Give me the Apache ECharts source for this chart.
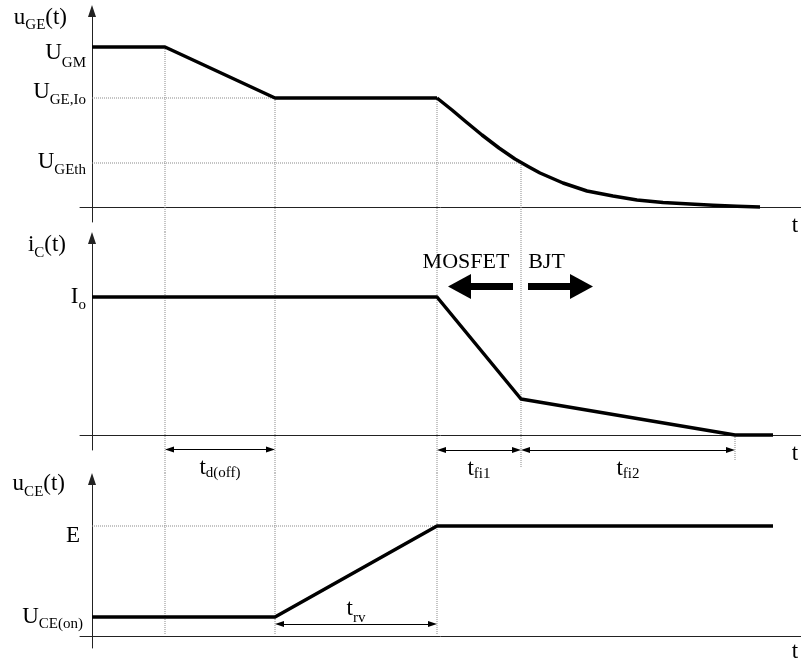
<!DOCTYPE html>
<html><head><meta charset="utf-8">
<script src="https://cdn.jsdelivr.net/npm/echarts@6/dist/echarts.min.js"></script>
<style>html,body{margin:0;padding:0;background:#fff}#c{width:801px;height:659px}</style>
</head><body><div id="c"></div>
<script>
// ---- time instants (arbitrary time units) ----
const tInstants = [0, 7.3, 18.3, 34.5, 42.9, 64.3, 68.1]; // t0, t1..t5, end

// ---- waveforms [t, value] ----
const uGE_linear = [[0, 16.0], [7.3, 16.0], [18.3, 10.9], [34.5, 10.9]];
const uGE_decay = [[34.5, 10.9], [36.0, 9.7], [37.3, 8.6], [39.0, 7.2], [40.7, 5.9], [42.3, 4.8], [43.7, 4.0], [44.8, 3.4],
  [47.1, 2.4], [49.5, 1.6], [52.1, 1.1], [54.5, 0.7], [57.1, 0.45], [59.8, 0.3], [62.1, 0.17], [64.5, 0.08], [66.8, 0.0]];
const iC_wave = [[0, 13.8], [34.5, 13.8], [42.9, 3.6], [64.3, 0], [68.1, 0]];
const uCE_wave = [[0, 1.9], [18.3, 1.9], [34.5, 11.0], [68.1, 11.0]];

// ---- level ticks / labels ----
const uGE_tickValues = [16.0, 10.9, 4.4];
const uGE_tickLabels = ['{a1|U}{b1|GM}', '{a2|U}{b2|GE,Io}', '{a3|U}{b3|GEth}'];
const iC_tickValues = [13.8];
const iC_tickLabels = ['{a4|I}{b4|o}'];
const uCE_tickValues = [11.0, 1.9];
const uCE_tickLabels = ['{a5|E}', '{a6|U}{b6|CE(on)}'];

const axisNames = ['{m|u}{k|GE}{m|(t)}', '{m|i}{k|C}{m|(t)}', '{m|u}{k|CE}{m|(t)}'];
const timeAxisName = 't';

// ---- interval annotations: [start, end, level, label] ----
const iC_intervals = [[7.3, 18.3, -1.45, '{m|t}{n|d(off)}'], [34.5, 42.9, -1.5, '{m|t}{n|fi1}'], [42.9, 64.3, -1.5, '{m|t}{n|fi2}']];
const uCE_intervals = [[18.3, 34.5, 1.2, '{m|t}{d|rv}']];
const regionTexts = ['MOSFET', 'BJT'];
const regionTextPos = [[37.4, 17.25], [45.45, 17.25]];
const regionArrows = [[42.1, 35.6, 14.85], [43.6, 50.1, 14.85]]; // [from, to(tip), level]

// ---- guide (dotted) segments per panel: [[t,v],[t,v]] ----
const uGE_guides = [
  [[7.3, 16.0], [7.3, -2.6]], [[18.3, 10.9], [18.3, -2.6]], [[34.5, 10.9], [34.5, -2.6]], [[42.9, 4.4], [42.9, -2.6]],
  [[0, 10.9], [18.3, 10.9]], [[0, 4.4], [42.9, 4.4]]
];
const iC_guides = [
  [[7.3, 20.3], [7.3, -3.8]], [[18.3, 20.3], [18.3, -3.8]], [[34.5, 20.3], [34.5, -3.8]],
  [[42.9, 20.3], [42.9, -3.2]], [[64.3, 0], [64.3, -2.5]]
];
const uCE_guides = [
  [[7.3, 16.3], [7.3, 0.2]], [[18.3, 16.3], [18.3, 0.2]], [[34.5, 16.3], [34.5, 0.2]],
  [[0, 11.0], [34.5, 11.0]]
];

const serif = '"Liberation Serif", "Times New Roman", serif';
const BLACK = '#000';
const AXIS = '#222';

function tok(size, pad) { return {fontFamily: serif, fontSize: size, lineHeight: size, color: BLACK, padding: pad, verticalAlign: 'middle'}; }
const tickRich = {
  a1: tok(23, [12, 0, 0, 0]), b1: tok(15, [33, 0, 0, 0]),
  a2: tok(23, [0, 0, 12, 0]), b2: tok(15, [4, 0, 0, 0]),
  a3: tok(23, [0, 0, 2, 0]), b3: tok(15, [15, 0, 0, 0]),
  a4: tok(23, [0, 0, 0, 0]), b4: tok(15, [17, 0, 0, 0]),
  a5: tok(23, [19, 6, 0, 0]),
  a6: tok(23, [0, 0, 0, 0]), b6: tok(15, [15, 3, 0, 0])
};
const nameRich = {
  m: tok(23, [0, 0, 0, 0]),
  n: tok(15, [11, 0, 0, 0]),
  k: tok(15, [16, 0, 0, 0]),
  d: tok(15, [19, 0, 0, 0])
};

function lookup(values, labels) {
  return function (v) {
    for (let i = 0; i < values.length; i++) if (Math.abs(values[i] - v) < 1e-6) return labels[i];
    return '';
  };
}

const X_MIN = -1.2, X_MAX = 70.9, GRID_LEFT = 80, CHART_W = 801;
const pxPerUnit = (CHART_W - GRID_LEFT) / (X_MAX - X_MIN);

const grids = [
  {left: GRID_LEFT, right: 0, top: 11, height: 211},
  {left: GRID_LEFT, right: 0, top: 238, height: 212},
  {left: GRID_LEFT, right: 0, top: 479, height: 169}
];
const yRanges = [[-1.5, 19.6], [-1.5, 19.7], [-1.2, 15.7]];
const tickSets = [[uGE_tickValues, uGE_tickLabels], [iC_tickValues, iC_tickLabels], [uCE_tickValues, uCE_tickLabels]];
const namePad = [[25, -6.5], [26, -7], [27, -5]];
const tPad = [7, 7, 4];

const xAxes = grids.map((g, i) => ({
  type: 'value', gridIndex: i, min: X_MIN, max: X_MAX,
  axisLine: {show: true, onZero: true, lineStyle: {color: AXIS, width: 1}},
  axisTick: {show: false}, axisLabel: {show: false}, splitLine: {show: false},
  name: timeAxisName, nameLocation: 'end', nameGap: -6, nameMoveOverlap: false,
  nameTextStyle: {fontFamily: serif, fontSize: 23, lineHeight: 23, color: BLACK, align: 'center', verticalAlign: 'top', padding: [tPad[i], 0, 0, 0]}
}));
const yAxes = grids.map((g, i) => ({
  type: 'value', gridIndex: i, min: yRanges[i][0], max: yRanges[i][1],
  axisLine: {show: true, onZero: true, symbol: ['none', 'triangle'], symbolSize: [8, 12], lineStyle: {color: AXIS, width: 1}},
  axisTick: {show: false}, splitLine: {show: false},
  axisLabel: {show: true, customValues: tickSets[i][0], formatter: lookup(tickSets[i][0], tickSets[i][1]), margin: -6, rich: tickRich, color: BLACK},
  name: axisNames[i], nameLocation: 'end', nameGap: namePad[i][1], nameMoveOverlap: false,
  nameTextStyle: {align: 'right', verticalAlign: 'middle', padding: [0, namePad[i][0], 0, 0], rich: nameRich}
}));

const series = [];
function guideSeries(idx, segs) {
  segs.forEach(s => series.push({
    type: 'line', xAxisIndex: idx, yAxisIndex: idx, data: s, symbol: 'none', clip: false, silent: true, z: 1,
    lineStyle: {color: '#8a8a8a', width: 1, type: [1, 1]}
  }));
}
guideSeries(0, uGE_guides);
guideSeries(1, iC_guides);
guideSeries(2, uCE_guides);

function wave(idx, data) {
  series.push({type: 'line', xAxisIndex: idx, yAxisIndex: idx, data: data, symbol: 'none', smooth: false,
    clip: false, silent: true, z: 5, lineStyle: {color: BLACK, width: 3.5, cap: 'butt', join: 'round'}});
}
wave(0, uGE_linear);
wave(0, uGE_decay);
wave(1, iC_wave);
wave(2, uCE_wave);

// arrow heads are centred on the line ends, so pull the ends back by half a head length
const SMALL_HEAD = [6, 9];
const BIG_HEAD = [25, 23];
const smallInset = SMALL_HEAD[1] / 2 / pxPerUnit;
const bigInset = BIG_HEAD[1] / 2 / pxPerUnit;

function intervalSeries(idx, list, pos, dist) {
  series.push({
    type: 'line', xAxisIndex: idx, yAxisIndex: idx, data: [], clip: false, silent: true,
    markLine: {
      silent: true, symbol: ['triangle', 'triangle'], symbolSize: SMALL_HEAD,
      lineStyle: {color: BLACK, width: 1, type: 'solid'},
      label: {show: true, position: pos, distance: dist, color: BLACK, rich: nameRich},
      emphasis: {disabled: true},
      data: list.map(r => [{coord: [r[0] + smallInset, r[2]], label: {formatter: r[3]}}, {coord: [r[1] - smallInset, r[2]]}])
    }
  });
}
intervalSeries(1, iC_intervals, 'insideMiddleBottom', 7);
intervalSeries(2, uCE_intervals, 'insideMiddleTop', 4);

series.push({
  type: 'line', xAxisIndex: 1, yAxisIndex: 1, data: [], clip: false, silent: true,
  markLine: {
    silent: true, symbol: ['none', 'triangle'], symbolSize: BIG_HEAD,
    lineStyle: {color: BLACK, width: 7, type: 'solid', cap: 'butt'},
    label: {show: false}, emphasis: {disabled: true},
    data: regionArrows.map(r => {
      const dir = r[1] > r[0] ? 1 : -1;
      return [{coord: [r[0], r[2]]}, {coord: [r[1] - dir * bigInset, r[2]]}];
    })
  },
  markPoint: {
    silent: true, symbol: 'circle', symbolSize: 0,
    label: {show: true, position: 'inside', formatter: '{b}', fontFamily: serif, fontSize: 22, color: BLACK},
    data: regionTexts.map((t, i) => ({name: t, coord: regionTextPos[i]}))
  }
});

const chart = echarts.init(document.getElementById('c'), null, {renderer: 'canvas'});
chart.setOption({
  animation: false,
  backgroundColor: '#fff',
  textStyle: {fontFamily: serif},
  grid: grids.map(g => Object.assign({containLabel: false, outerBoundsMode: 'none'}, g)),
  xAxis: xAxes,
  yAxis: yAxes,
  series: series
});
</script></body></html>
